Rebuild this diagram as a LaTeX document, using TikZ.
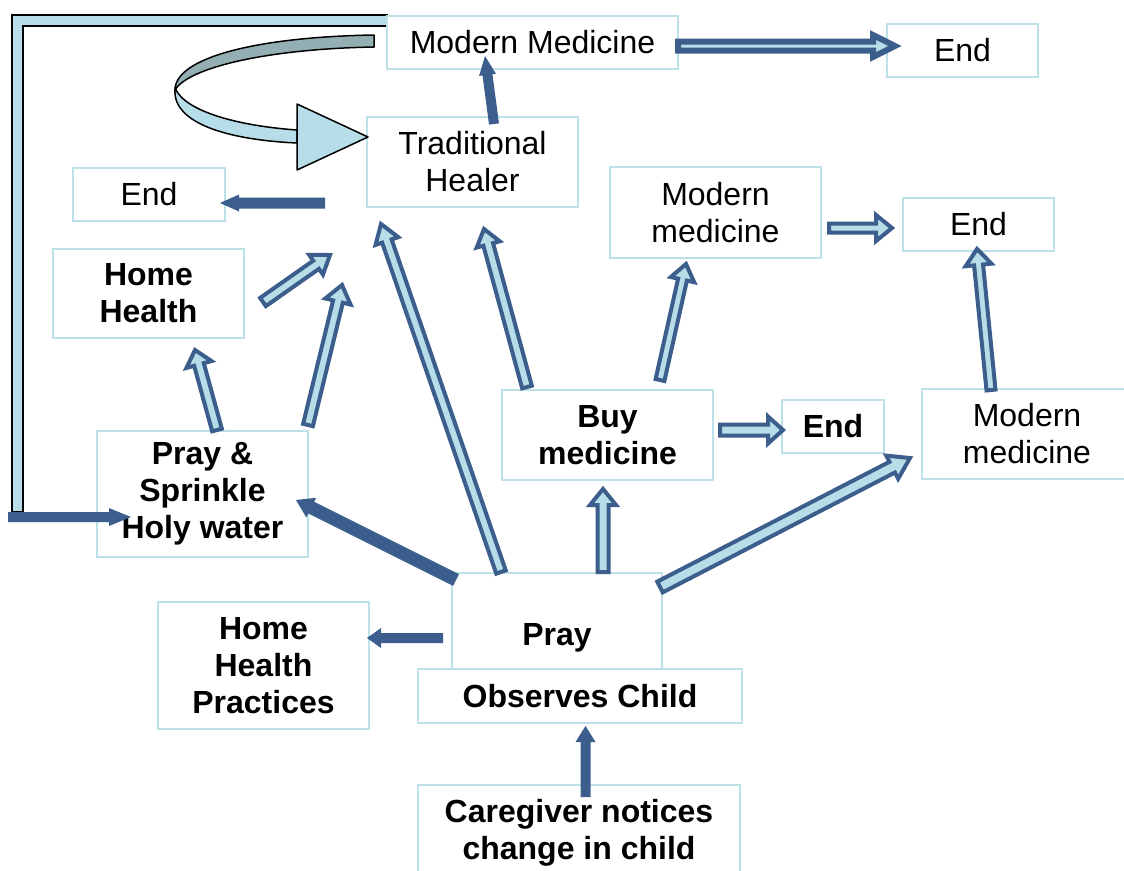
\documentclass[tikz,border=0pt]{standalone}
\usepackage{fontspec}
\setmainfont{Liberation Sans}
\usetikzlibrary{calc}
\definecolor{dkblue}{HTML}{3B5E8C}
\definecolor{ltblue}{HTML}{B7DEE8}
\definecolor{boxc}{HTML}{BCE1E8}
\definecolor{curvedk}{HTML}{93AFB3}
% block arrow: [style]{from}{to}{shaft half width}{head half width}{head length}
\newcommand\blockarr[6][barrowsty]{%
  \pgfpointdiff{\pgfpointanchor{#2}{center}}{\pgfpointanchor{#3}{center}}%
  \pgfgetlastxy{\bdx}{\bdy}%
  \pgfmathsetmacro\bang{atan2(\bdy,\bdx)}%
  \pgfmathsetmacro\blen{veclen(\bdx,\bdy)}%
  \begin{scope}[shift={(#2)},rotate=\bang]
    \draw[#1] (0pt,-#4pt) -- ({\blen pt-#6pt},-#4pt) -- ({\blen pt-#6pt},-#5pt)
      -- ({\blen pt},0pt) -- ({\blen pt-#6pt},#5pt) -- ({\blen pt-#6pt},#4pt)
      -- (0pt,#4pt) -- cycle;
  \end{scope}}
\begin{document}
\begin{tikzpicture}[x=1pt,y=-1pt,
  nbox/.style={draw=boxc, line width=2pt, fill=white, inner sep=0pt, align=center,
    font=\fontsize{32}{37}\selectfont},
  bnode/.style={inner sep=0pt, align=center, font=\fontsize{32}{37}\selectfont\bfseries},
  barrowsty/.style={draw=dkblue, fill=ltblue, line width=4pt, line join=miter},
  sarrowsty/.style={fill=dkblue, draw=none},
  curveline/.style={draw=black, line width=1.5pt, line join=round}]
\fill[white] (0,0) rectangle (1124,870);
\useasboundingbox (0,0) rectangle (1124,870);

% frame bar
\draw[fill=ltblue, draw=black, line width=1.5pt] (12,512) -- (12,15) -- (387,15) -- (387,26) -- (23,26) -- (23,512) -- cycle;

% boxes
\node[nbox, minimum width=291pt, minimum height=53pt] (mm) at (532.5,42.5) {Modern Medicine};
\node[nbox, minimum width=151pt, minimum height=53pt] (endtop) at (962.5,50.5) {End};
\node[nbox, minimum width=211pt, minimum height=90pt] (trad) at (472.5,162) {Traditional\\Healer};
\node[nbox, minimum width=152pt, minimum height=53pt] (endl) at (149,194.5) {End};
\node[nbox, minimum width=191pt, minimum height=89pt, font=\fontsize{32}{37}\selectfont\bfseries] (hh) at (148.5,293.5) {Home\\Health};
\node[nbox, minimum width=211pt, minimum height=91pt] (mmm) at (715.5,212.5) {Modern\\medicine};
\node[nbox, minimum width=151pt, minimum height=53pt] (endr) at (978.5,224.5) {End};
\node[nbox, minimum width=211pt, minimum height=126pt, font=\fontsize{32}{37}\selectfont\bfseries] (ps) at (202.5,494) {Pray \&\\Sprinkle\\Holy water};
\node[nbox, minimum width=211pt, minimum height=90pt, font=\fontsize{32}{37}\selectfont\bfseries] (buy) at (607.5,435) {Buy\\medicine};
\node[nbox, minimum width=102pt, minimum height=53pt, font=\fontsize{32}{37}\selectfont\bfseries] (endb) at (833,426.5) {End};
\node[nbox, minimum width=210pt, minimum height=90pt] (mmr) at (1027,434) {Modern\\medicine};
\node[nbox, minimum width=210pt, minimum height=96pt] (pray) at (557,621) {};
\node[bnode] (praytxt) at (557,638) {Pray};
\node[nbox, minimum width=324pt, minimum height=54pt, font=\fontsize{32}{37}\selectfont\bfseries] (obs) at (580,696) {Observes Child};
\node[nbox, minimum width=211pt, minimum height=127pt, font=\fontsize{32}{37}\selectfont\bfseries] (hhp) at (263.5,665.5) {Home\\Health\\Practices};
\node[nbox, minimum width=322pt, minimum height=95pt, font=\fontsize{32}{37}\selectfont\bfseries] (care) at (579,832.5) {Caregiver notices\\change in child};

% curved arrow (traditional healer loop)
\draw[curveline, fill=curvedk] (374,35) .. controls (255,37) and (175,58) .. (175,90)
   .. controls (188,68) and (265,49) .. (374,47) -- cycle;
\draw[curveline, fill=ltblue] (175,88) .. controls (185,112) and (240,126) .. (297,130)
   -- (297,143) .. controls (230,140) and (173,124) .. (175,90) -- cycle;
\draw[curveline, fill=ltblue] (297,104) -- (368,137) -- (297,170) -- cycle;

% arrow end points
\coordinate (a1s) at (585.5,797); \coordinate (a1e) at (585.5,726);
\coordinate (a2s) at (443,638);   \coordinate (a2e) at (367,638);
\coordinate (a3s) at (456,580);   \coordinate (a3e) at (296,500);
\coordinate (a4s) at (8,517);     \coordinate (a4e) at (131,517);
\coordinate (a5s) at (325,203);   \coordinate (a5e) at (220,203);
\coordinate (a6s) at (494,124);   \coordinate (a6e) at (485,56);
\coordinate (a7s) at (501,572);   \coordinate (a7e) at (381,224);
\coordinate (a8s) at (603,572);   \coordinate (a8e) at (603,489);
\coordinate (a9s) at (660,587);   \coordinate (a9e) at (910,458);
\coordinate (a10s) at (527,387);  \coordinate (a10e) at (484,229);
\coordinate (a11s) at (660,380);  \coordinate (a11e) at (686,264);
\coordinate (a12s) at (720,430);  \coordinate (a12e) at (783,430);
\coordinate (a13s) at (991,390);  \coordinate (a13e) at (977,249);
\coordinate (a14s) at (829,228);  \coordinate (a14e) at (892,228);
\coordinate (a15s) at (217,430);  \coordinate (a15e) at (195,350);
\coordinate (a16s) at (308,425);  \coordinate (a16e) at (342,285);
\coordinate (a17s) at (263,302);  \coordinate (a17e) at (330,255);
\coordinate (a18s) at (678,46);   \coordinate (a18e) at (895,46);

% solid arrows
\blockarr[sarrowsty]{a1s}{a1e}{5}{10}{16}
\blockarr[sarrowsty]{a2s}{a2e}{5}{10}{14}
\blockarr[sarrowsty]{a3s}{a3e}{6.5}{11}{17}
\blockarr[sarrowsty]{a4s}{a4e}{5}{9}{22}
\blockarr[sarrowsty]{a5s}{a5e}{5.5}{8.5}{19}
\blockarr[sarrowsty]{a6s}{a6e}{5}{8.5}{19}

% outlined block arrows
\blockarr{a7s}{a7e}{5}{12}{18}
\blockarr{a8s}{a8e}{5.5}{13}{16}
\blockarr{a9s}{a9e}{6}{13}{20}
\blockarr{a10s}{a10e}{5}{12}{16}
\blockarr{a11s}{a11e}{4.5}{12}{16}
\blockarr{a12s}{a12e}{5.5}{13.5}{15}
\blockarr{a13s}{a13e}{4.5}{13}{16}
\blockarr{a14s}{a14e}{4.5}{13}{16}
\blockarr{a15s}{a15e}{5}{13}{15}
\blockarr{a16s}{a16e}{5}{13}{17}
\blockarr{a17s}{a17e}{5}{12}{17}
\blockarr[barrowsty, line width=6pt]{a18s}{a18e}{4.5}{11}{22}
\end{tikzpicture}
\end{document}
